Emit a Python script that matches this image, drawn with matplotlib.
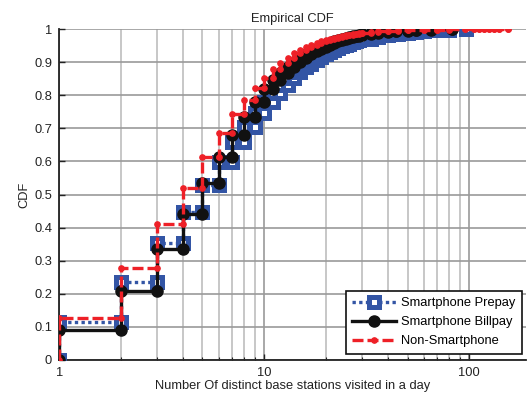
import numpy as np
import matplotlib
matplotlib.use("Agg")
import matplotlib.pyplot as plt
from matplotlib.ticker import FixedLocator, FixedFormatter, NullFormatter

plt.rcParams['font.family'] = ['Liberation Sans', 'DejaVu Sans']

# number of distinct base stations per day and the ecdf value at each one
prepay_x = [1, 2, 3, 4, 5, 6, 7, 8, 9, 10, 11, 12, 13, 14, 15, 16, 17, 18, 19, 20,
            21, 22, 23, 24, 25, 26, 27, 28, 29, 30, 33, 36, 40, 45, 50, 55, 60, 70, 80, 96]
prepay_f = [0.116, 0.237, 0.352, 0.448, 0.528, 0.599, 0.660, 0.705, 0.745, 0.780,
            0.808, 0.832, 0.852, 0.869, 0.884, 0.896, 0.907, 0.916, 0.924, 0.931,
            0.937, 0.943, 0.948, 0.952, 0.956, 0.960, 0.963, 0.966, 0.969, 0.971,
            0.977, 0.981, 0.985, 0.989, 0.992, 0.994, 0.996, 0.998, 0.999, 1.0]

billpay_x = [1, 2, 3, 4, 5, 6, 7, 8, 9, 10, 11, 12, 13, 14, 15, 16, 17, 18, 19, 20,
             21, 22, 23, 24, 25, 26, 27, 28, 29, 30, 33, 36, 40, 44, 50, 55, 65, 82]
billpay_f = [0.090, 0.209, 0.334, 0.441, 0.534, 0.614, 0.680, 0.735, 0.779, 0.818,
             0.845, 0.868, 0.886, 0.901, 0.913, 0.924, 0.933, 0.941, 0.947, 0.953,
             0.958, 0.963, 0.967, 0.970, 0.973, 0.976, 0.978, 0.980, 0.982, 0.984,
             0.988, 0.991, 0.993, 0.995, 0.997, 0.998, 0.999, 1.0]

nonsmart_x = [1, 2, 3, 4, 5, 6, 7, 8, 9, 10, 11, 12, 13, 14, 15, 16, 17, 18, 19, 20,
              21, 22, 23, 24, 25, 26, 27, 28, 29, 30, 33, 36, 40, 45, 50, 60, 70, 80,
              95, 105, 112, 118, 125, 132, 140, 154]
nonsmart_f = [0.128, 0.279, 0.410, 0.521, 0.613, 0.685, 0.742, 0.787, 0.822, 0.853,
              0.879, 0.899, 0.914, 0.927, 0.937, 0.945, 0.952, 0.958, 0.963, 0.967,
              0.971, 0.974, 0.977, 0.979, 0.981, 0.983, 0.985, 0.986, 0.987, 0.988,
              0.991, 0.993, 0.995, 0.996, 0.997, 0.998, 0.9985, 0.999, 0.9993, 0.9995,
              0.9996, 0.9997, 0.9998, 0.9999, 0.99995, 1.0]


def stairs(x, f):
    """Corner points of the ecdf staircase, starting from 0 at the first value."""
    x = np.asarray(x, dtype=float)
    f = np.asarray(f, dtype=float)
    xs = np.repeat(x, 2)
    ys = np.empty_like(xs)
    ys[0::2] = np.concatenate([[0.0], f[:-1]])
    ys[1::2] = f
    return xs, ys


blue = '#3355a5'
red = '#ee2027'
black = '#111111'
txt = '#222222'
fs = 9.3

fig = plt.figure(figsize=(5.28, 3.99), dpi=100)
ax = fig.add_axes([0.112, 0.098, 0.885, 0.829])

xs, ys = stairs(prepay_x, prepay_f)
ax.plot(xs, ys, color=blue, linestyle=(0, (1, 1)), linewidth=2.4,
        marker='s', markersize=6.5, markerfacecolor='white',
        markeredgecolor=blue, markeredgewidth=3.6, label='Smartphone Prepay', zorder=3)

xs, ys = stairs(billpay_x, billpay_f)
ax.plot(xs, ys, color=black, linestyle='-', linewidth=2.4,
        marker='o', markersize=8, markerfacecolor=black, markeredgecolor=black,
        label='Smartphone Billpay', zorder=4)

xs, ys = stairs(nonsmart_x, nonsmart_f)
ax.plot(xs, ys, color=red, linestyle=(0, (3.3, 1.2)), linewidth=2.4,
        marker='o', markersize=3.8, markerfacecolor=red, markeredgecolor=red,
        label='Non-Smartphone', zorder=5)

ax.set_xscale('log')
ax.set_xlim(1, 190)
ax.set_ylim(0, 1)

ax.xaxis.set_major_locator(FixedLocator([1, 10, 100]))
ax.xaxis.set_major_formatter(FixedFormatter(['1', '10', '100']))
minors = [v * d for d in (1, 10, 100) for v in range(2, 10) if v * d < 190]
ax.xaxis.set_minor_locator(FixedLocator(minors))
ax.xaxis.set_minor_formatter(NullFormatter())

yt = np.round(np.arange(0, 1.01, 0.1), 1)
ax.set_yticks(yt)
ax.set_yticklabels(['0'] + [f'{v:g}' for v in yt[1:-1]] + ['1'])

ax.grid(True, which='major', color='#9a9a9a', linewidth=1.2)
ax.grid(True, which='minor', axis='x', color='#bdbdbd', linewidth=1.2)
ax.set_axisbelow(True)

ax.tick_params(which='both', direction='in', labelsize=fs, colors=txt)
ax.tick_params(which='major', length=4, width=1)
ax.tick_params(which='minor', length=2.5, width=0.8)
ax.tick_params(axis='y', pad=5)
ax.tick_params(axis='x', pad=5)

for side in ('top', 'right'):
    ax.spines[side].set_visible(False)
for side in ('left', 'bottom'):
    ax.spines[side].set_linewidth(1.3)
    ax.spines[side].set_color(txt)

ax.set_title('Empirical CDF', fontsize=fs, color=txt, pad=5)
ax.set_xlabel('Number Of distinct base stations visited in a day', fontsize=fs,
              color=txt, labelpad=1)
ax.set_ylabel('CDF', fontsize=fs, color=txt, labelpad=3)

leg = ax.legend(loc='lower right', bbox_to_anchor=(0.99, 0.018), borderaxespad=0,
                fontsize=fs, handlelength=3.4, handletextpad=0.35, labelspacing=0.55,
                borderpad=0.5, fancybox=False, framealpha=1, edgecolor='#111111')
leg.get_frame().set_linewidth(1.2)

fig.savefig('out.png', dpi=100)
